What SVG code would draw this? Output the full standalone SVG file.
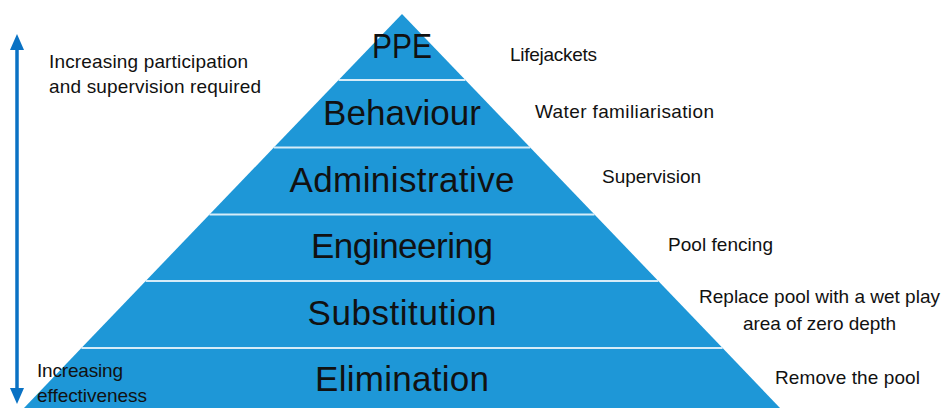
<svg xmlns="http://www.w3.org/2000/svg" width="944" height="408" viewBox="0 0 944 408">
  <defs>
    <style>
      .band { fill: #1E97D7; }
      .divider { stroke: #D6ECF8; stroke-width: 2; }
      .tier { font-family: "Liberation Sans", Arial, sans-serif; font-size: 35px; fill: #111; text-anchor: middle; }
      .note { font-family: "Liberation Sans", Arial, sans-serif; font-size: 19px; fill: #111; }
      .axis { stroke: #0A72C4; stroke-width: 3.5; fill: none; }
    </style>
    <marker id="arrowHead" viewBox="0 0 16 14" refX="4" refY="7" markerWidth="16" markerHeight="14" markerUnits="userSpaceOnUse" orient="auto-start-reverse">
      <path d="M0,0 L16,7 L0,14 Z" fill="#0A72C4"/>
    </marker>
  </defs>

  <rect width="944" height="408" fill="#ffffff"/>

  <!-- hierarchy tiers, apex at (402,14), side slope 0.96 -->
  <g id="tier-ppe">
    <polygon class="band" points="402,14 465.4,80 338.6,80"/>
    <text class="tier" x="402" y="58" textLength="60" lengthAdjust="spacingAndGlyphs">PPE</text>
  </g>
  <g id="tier-behaviour">
    <polygon class="band" points="338.6,80 465.4,80 530.2,147.5 273.8,147.5"/>
    <text class="tier" x="402" y="125" textLength="158">Behaviour</text>
  </g>
  <g id="tier-administrative">
    <polygon class="band" points="273.8,147.5 530.2,147.5 594.5,214.5 209.5,214.5"/>
    <text class="tier" x="402" y="192" textLength="225">Administrative</text>
  </g>
  <g id="tier-engineering">
    <polygon class="band" points="209.5,214.5 594.5,214.5 658.3,281 145.7,281"/>
    <text class="tier" x="402" y="258" textLength="182">Engineering</text>
  </g>
  <g id="tier-substitution">
    <polygon class="band" points="145.7,281 658.3,281 722.6,348 81.4,348"/>
    <text class="tier" x="402" y="325" textLength="189">Substitution</text>
  </g>
  <g id="tier-elimination">
    <polygon class="band" points="81.4,348 722.6,348 780,408 24,408"/>
    <text class="tier" x="402" y="391" textLength="174">Elimination</text>
  </g>

  <!-- light separators between tiers -->
  <g id="connectors">
    <line class="divider" x1="338.6" y1="80" x2="465.4" y2="80"/>
    <line class="divider" x1="273.8" y1="147.5" x2="530.2" y2="147.5"/>
    <line class="divider" x1="209.5" y1="214.5" x2="594.5" y2="214.5"/>
    <line class="divider" x1="145.7" y1="281" x2="658.3" y2="281"/>
    <line class="divider" x1="81.4" y1="348" x2="722.6" y2="348"/>
    <!-- double-headed scale arrow -->
    <line class="axis" x1="17" y1="46" x2="17" y2="392" marker-start="url(#arrowHead)" marker-end="url(#arrowHead)"/>
  </g>

  <!-- examples for each tier -->
  <g id="examples">
    <text class="note" x="510" y="61" textLength="87">Lifejackets</text>
    <text class="note" x="535" y="118" textLength="179">Water familiarisation</text>
    <text class="note" x="602" y="183" textLength="99">Supervision</text>
    <text class="note" x="668" y="251" textLength="105">Pool fencing</text>
    <text class="note" x="699" y="303" textLength="241">Replace pool with a wet play</text>
    <text class="note" x="743" y="330" textLength="153">area of zero depth</text>
    <text class="note" x="775" y="384" textLength="145">Remove the pool</text>
  </g>

  <!-- scale labels -->
  <g id="scale-labels">
    <text class="note" x="49" y="68" textLength="199">Increasing participation</text>
    <text class="note" x="49" y="93" textLength="212">and supervision required</text>
    <text class="note" x="37" y="377" textLength="86">Increasing</text>
    <text class="note" x="37" y="402" textLength="110">effectiveness</text>
  </g>
</svg>
